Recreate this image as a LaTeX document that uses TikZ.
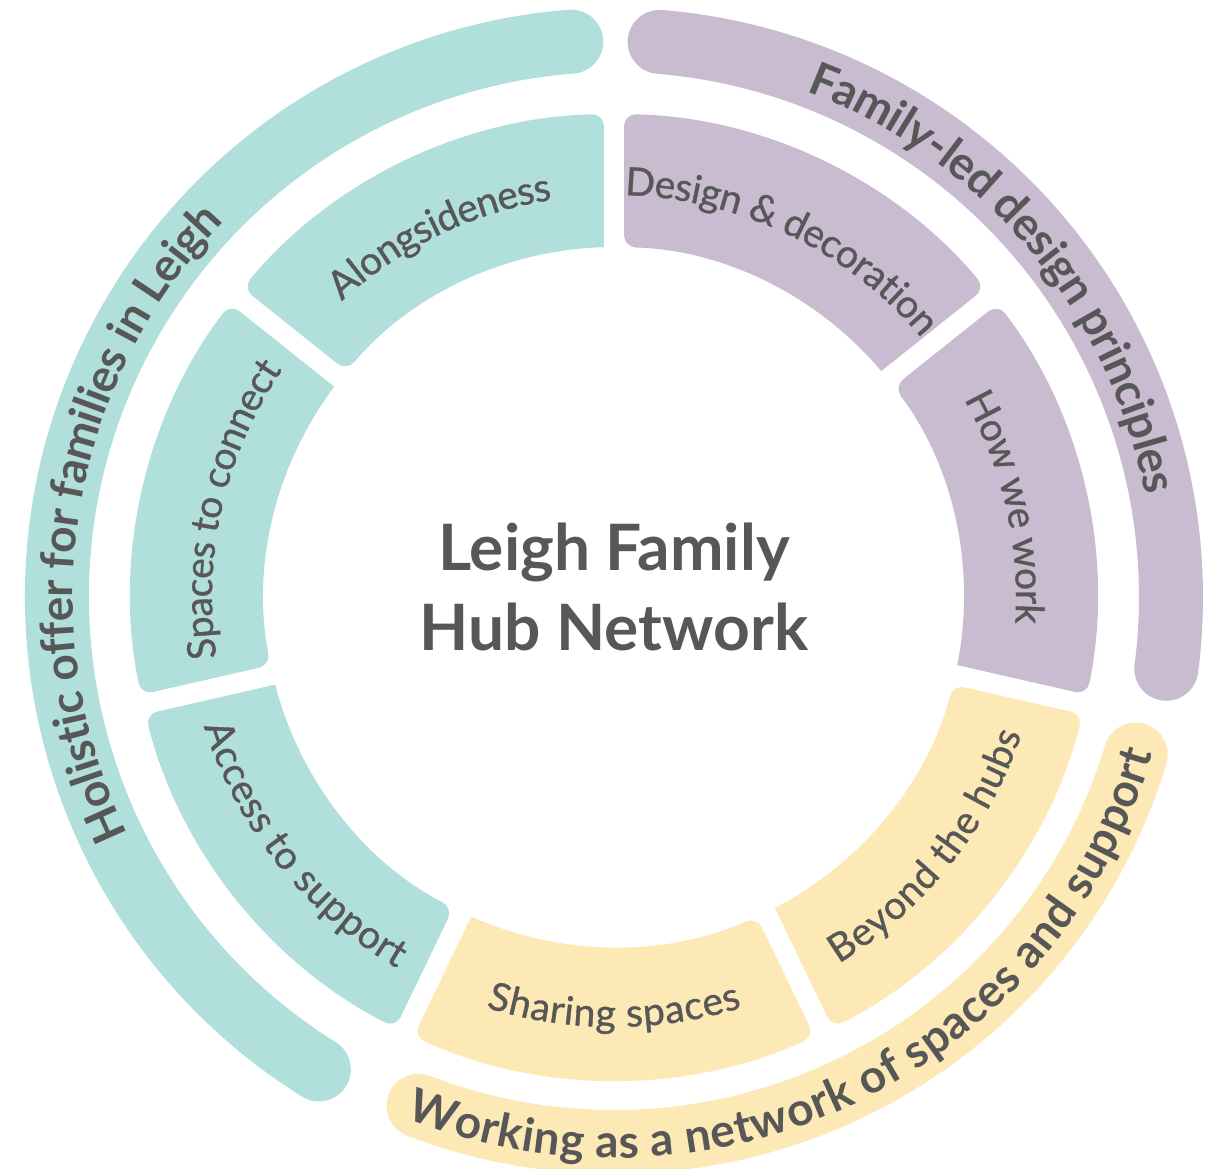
\documentclass[tikz,border=0pt]{standalone}
\usepackage{fontspec}
\setmainfont{Lato}
\newfontfamily\ringface[FakeBold=0.9]{Lato}
\usetikzlibrary{decorations.text}

\definecolor{hubteal}{HTML}{B1DFDB}
\definecolor{hubpurple}{HTML}{C9BCD1}
\definecolor{hubyellow}{HTML}{FCE9B5}
\definecolor{hubtext}{HTML}{575757}

\newcommand{\ringfont}{\ringface\fontsize{39}{39}\selectfont\color{hubtext}}
\newcommand{\bandfont}{\fontsize{46}{46}\selectfont\bfseries\color{hubtext}}

\tikzset{
  ring label/.style={decorate, decoration={text along path, text align=center,
      raise=-14pt, text={|\ringfont|#1}}},
  band label/.style={decorate, decoration={text along path, text align=center,
      raise=-16pt, text={|\bandfont|#1}}},
  band/.style={line width=64pt, line cap=round}
}

\begin{document}
\begin{tikzpicture}[x=1pt, y=1pt]
  \useasboundingbox (-614,-571) rectangle (598,597);

  % outer bands
  \draw[band, hubteal] (238:557) arc[start angle=238, end angle=94.4, radius=557];
  \draw[band, hubpurple] (85.3:557) arc[start angle=85.3, end angle=-7.4, radius=557];
  \draw[band, hubyellow] (249:545) arc[start angle=249, end angle=343.2, radius=545];

  % middle ring, seven segments
  \foreach \from/\upto/\col in {90/141.43/hubteal, 141.43/192.86/hubteal,
      192.86/244.29/hubteal, 244.29/295.71/hubyellow, 295.71/347.14/hubyellow,
      347.14/398.57/hubpurple, 38.57/90/hubpurple}
    \fill[\col] ({\from+1.64}:350) [rounded corners=12pt] -- ({\from+1.19}:483)
      arc[start angle=\from+1.19, end angle=\upto-1.19, radius=483]
      -- ({\upto-1.64}:350) [sharp corners]
      arc[start angle=\upto-1.64, end angle=\from+1.64, radius=350] -- cycle;

  % segment labels
  \path[ring label=Alongsideness] (141.43:416) arc[start angle=141.43, end angle=90, radius=416];
  \path[ring label=Spaces to connect] (192.86:416) arc[start angle=192.86, end angle=141.43, radius=416];
  \path[ring label=Access to support] (192.86:416) arc[start angle=192.86, end angle=244.29, radius=416];
  \path[ring label=Sharing spaces] (244.29:416) arc[start angle=244.29, end angle=295.71, radius=416];
  \path[ring label=Beyond the hubs] (295.71:416) arc[start angle=295.71, end angle=347.14, radius=416];
  \path[ring label=How we work] (38.57:416) arc[start angle=38.57, end angle=-12.86, radius=416];
  \path[ring label={Design {\&} decoration}] (90:416) arc[start angle=90, end angle=38.57, radius=416];

  % band labels
  \path[band label=Holistic offer for families in Leigh] (240:557) arc[start angle=240, end angle=102, radius=557];
  \path[band label=Family-led design principles] (85:557) arc[start angle=85, end angle=-5, radius=557];
  \path[band label=Working as a network of spaces and support] (246:545) arc[start angle=246, end angle=346, radius=545];

  \node[align=center, text=hubtext, font=\fontsize{64}{80}\selectfont\bfseries] (hub) at (0,10)
    {Leigh Family\\Hub Network};
\end{tikzpicture}
\end{document}
